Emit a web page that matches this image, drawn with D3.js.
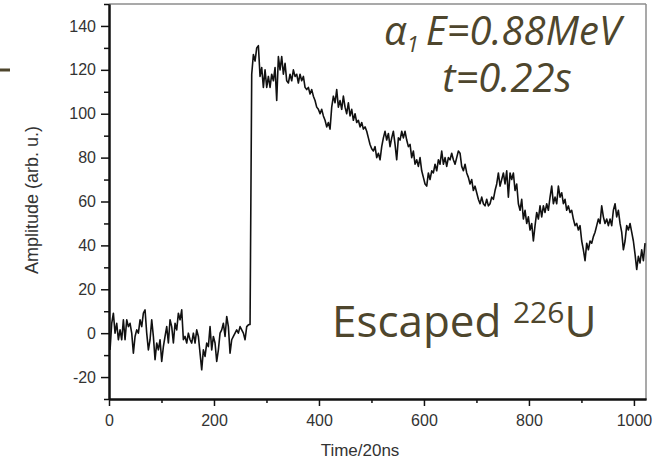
<!DOCTYPE html>
<html>
<head>
<meta charset="utf-8">
<script src="https://cdn.jsdelivr.net/npm/d3@7"></script>
<style>
	body { margin: 0; background: #fff; }
	#chart { width: 661px; height: 464px; }
</style>
</head>
<body>
<div id="chart"></div>
<script>
const sampleStart = 2;
const sampleStep = 3.175;

const baseline = [
	-7.6, 4.5, 9.1, 0, 4.5, -3, 1.5, -3, 6.1, -3,
	6.1, 3, 4.5, 0, -9.1, -1.5, 1.5, 0, 6.1, 3,
	9.1, 10.6, 0, -7.6, -3, 6.1, -1.5, -12.1, -4.5, -7.6,
	-3, -12.9, -6.1, -1.5, 3, -4.5, 6.1, 3, -4.5, 4.5,
	1.5, 9.1, 6.1, 10.6, -3, -1.5, -4.5, 0, -3, -4.5,
	0, -4.5, 1.5, -1.5, -9.1, -16.7, -7.6, -10.6, -4.5, -6.1,
	3, -7.6, -1.5, -4.5, -12.9, -7.6, 0, 1.5, 4.5, -1.5,
	7.6, 3, -9.1, -3, -1.5, 0, 1.5, 0, 3, 1.5,
	0, -3, 3, 3.8
];

const rise = [4, 118];

const peakRegion = [
	127, 124, 130, 131, 117, 121, 112, 120, 112, 117,
	112, 118, 115, 121, 106, 126, 120, 126, 118, 123,
	115, 114, 118, 115, 120, 117, 118, 114, 118, 115,
	117, 112, 111, 112, 109, 111, 108, 106, 103, 102,
	100, 102, 99, 97, 94, 96, 93, 103, 108, 105,
	111, 103, 106, 102, 108, 103, 100, 105, 99, 102,
	97, 100, 96, 97, 94, 96, 93, 94,
	92, 89
];

const midRegion = [
	86, 84, 83, 85, 80, 82, 79, 85, 89, 92,
	88, 91, 85, 89, 92, 86, 79, 89, 88, 92,
	89, 92, 88, 85, 86, 80, 83, 77, 79, 76,
	80, 74, 71, 68, 67, 73, 70, 74, 73, 77,
	74, 79, 77, 83, 77, 80, 76, 80, 79, 82,
	79, 77, 80, 83, 82, 76, 74, 77, 73, 71,
	68, 70, 65, 67, 64, 61, 59, 62, 59, 58,
	61, 58, 59, 62, 61, 65, 68, 73
];

const tailRegion = [
	67, 70, 73, 68, 74, 62, 73, 70, 73, 65,
	68, 59, 56, 61, 52, 56, 50, 53, 47, 50,
	42, 49, 55, 52, 58, 53, 58, 55, 59, 56,
	62, 67, 59, 62, 59, 67, 62, 64, 59, 61,
	56, 58, 55, 56, 52, 49, 50, 47, 49, 42,
	38, 33, 41, 38, 42, 41, 44, 46, 49, 52,
	50, 58, 53, 50, 52, 49, 52, 49, 56, 59,
	53, 56, 50, 46, 38, 42, 49, 47, 50, 46,
	42, 36, 29, 35, 32, 38, 33, 41
];

const xMajorTicks = [0, 200, 400, 600, 800, 1000];
const xMinorTicks = [100, 300, 500, 700, 900];
const yMajorTicks = [-20, 0, 20, 40, 60, 80, 100, 120, 140];
const yMinorTicks = [-30, -10, 10, 30, 50, 70, 90, 110, 130, 150];

class PulseChart{

	constructor(_parentElement, _width, _height){
		this.parentElement = _parentElement;
		this.width = _width;
		this.height = _height;

		this.initializeChart();
	}

	initializeChart(){
		var vis = this;

		vis.margin = {top: 4, right: 15, bottom: 65, left: 109};

		vis.svg = d3.select(vis.parentElement)
			.append("svg")
			.attr("width", vis.width)
			.attr("height", vis.height)
			.style("font-family", "'Liberation Sans', Arial, sans-serif");

		vis.x = d3.scaleLinear().domain([0, 1023]).range([vis.margin.left, vis.width - vis.margin.right]);
		vis.y = d3.scaleLinear().domain([-30, 150]).range([vis.height - vis.margin.bottom, vis.margin.top]);

		vis.wrangleData();
	}

	wrangleData(){
		var vis = this;

		// Join the pieces of the trace and give each sample its time
		var amps = baseline.concat(rise, peakRegion, midRegion, tailRegion);
		vis.trace = amps.map((a, i) => ({t: sampleStart + i * sampleStep, a: a}))
			.filter(d => d.t <= 1023);

		vis.updateChart();
	}

	updateChart(){
		var vis = this;
		var x0 = vis.margin.left, x1 = vis.width - vis.margin.right;
		var y0 = vis.height - vis.margin.bottom, y1 = vis.margin.top;

		// Light frame on top and right
		vis.svg.append("line")
			.attr("x1", x0).attr("x2", x1).attr("y1", y1).attr("y2", y1)
			.attr("stroke", "#8c8c8c").attr("stroke-width", 1.5);
		vis.svg.append("line")
			.attr("x1", x1).attr("x2", x1).attr("y1", y1).attr("y2", y0)
			.attr("stroke", "#8c8c8c").attr("stroke-width", 1.5);

		// Trace
		var line = d3.line().x(d => vis.x(d.t)).y(d => vis.y(d.a));
		vis.svg.append("path")
			.datum(vis.trace)
			.attr("d", line)
			.attr("fill", "none")
			.attr("stroke", "#111")
			.attr("stroke-width", 1.6)
			.attr("stroke-linejoin", "round");

		// Axes
		var styleAxis = g => {
			g.select(".domain").attr("stroke", "#111").attr("stroke-width", 2);
			g.selectAll(".tick line").attr("stroke", "#111").attr("stroke-width", 1.5);
			g.selectAll(".tick text").attr("fill", "#333").attr("font-size", 16);
		};

		vis.svg.append("g")
			.attr("transform", "translate(0," + y0 + ")")
			.call(d3.axisBottom(vis.x).tickValues(xMinorTicks).tickSize(4).tickSizeOuter(0).tickFormat(""))
			.call(styleAxis);
		vis.svg.append("g")
			.attr("transform", "translate(0," + y0 + ")")
			.call(d3.axisBottom(vis.x).tickValues(xMajorTicks).tickSize(7).tickSizeOuter(0).tickPadding(9).tickFormat(d => String(d)))
			.call(styleAxis);

		vis.svg.append("g")
			.attr("transform", "translate(" + x0 + ",0)")
			.call(d3.axisLeft(vis.y).tickValues(yMinorTicks).tickSize(5).tickSizeOuter(0).tickFormat(""))
			.call(styleAxis);
		vis.svg.append("g")
			.attr("transform", "translate(" + x0 + ",0)")
			.call(d3.axisLeft(vis.y).tickValues(yMajorTicks).tickSize(8).tickSizeOuter(0).tickPadding(5).tickFormat(d => String(d)))
			.call(styleAxis);

		// Axis titles
		vis.svg.append("text")
			.attr("x", 360).attr("y", 456)
			.attr("text-anchor", "middle")
			.attr("font-size", 17).attr("fill", "#333")
			.text("Time/20ns");

		vis.svg.append("text")
			.attr("transform", "translate(38," + 200 + ") rotate(-90)")
			.attr("text-anchor", "middle")
			.attr("font-size", 18).attr("fill", "#333")
			.text("Amplitude (arb. u.)");

		// Slide annotations
		var olive = "#4e462d";
		vis.svg.append("line")
			.attr("x1", 0).attr("x2", 10).attr("y1", 70).attr("y2", 70)
			.attr("stroke", olive).attr("stroke-width", 3);

		var note = vis.svg.append("g")
			.style("font-family", "'Open Sans', sans-serif")
			.style("font-style", "italic")
			.attr("fill", olive);
		var l1 = note.append("text").attr("x", 384).attr("y", 45).attr("font-size", 40);
		l1.append("tspan").text("α");
		l1.append("tspan").attr("font-size", 22).attr("dy", 7).text("1");
		l1.append("tspan").attr("dy", -7).attr("dx", 7).text("E=0.88MeV");
		note.append("text").attr("x", 507).attr("y", 92).attr("font-size", 40)
			.attr("text-anchor", "middle").text("t=0.22s");

		var esc = vis.svg.append("text")
			.attr("x", 332).attr("y", 337)
			.style("font-family", "'Open Sans', sans-serif")
			.attr("font-size", 44).attr("fill", olive);
		esc.append("tspan").text("Escaped ");
		esc.append("tspan").attr("font-size", 30).attr("dy", -14).text("226");
		esc.append("tspan").attr("dy", 14).text("U");
	}
}

new PulseChart("#chart", 661, 464);
</script>
</body>
</html>
